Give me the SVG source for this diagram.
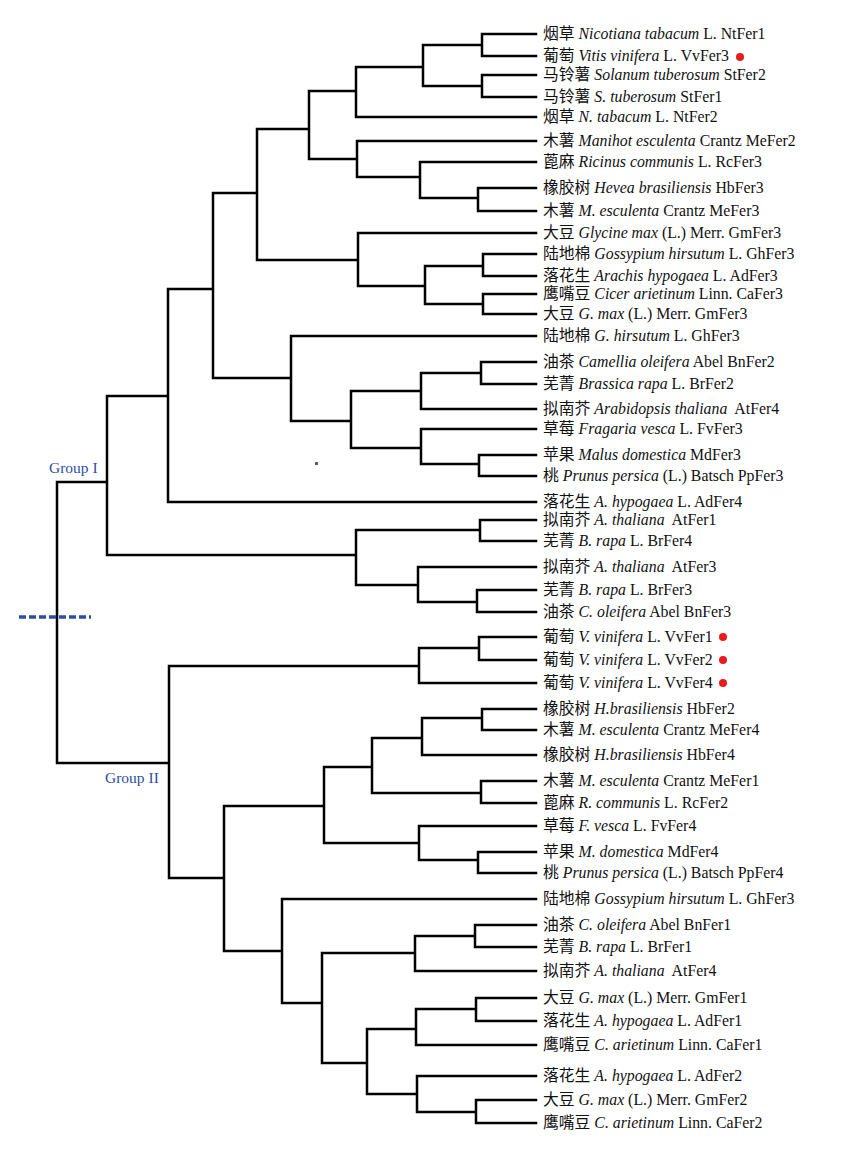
<svg xmlns="http://www.w3.org/2000/svg" width="854" height="1159" viewBox="0 0 854 1159">
<style>
.tree{fill:none;stroke:#000;stroke-width:2.5;stroke-linecap:square}
.lb{font-family:"Liberation Serif","Noto Sans CJK SC",serif;font-size:15.8px;fill:#111;white-space:pre}
.it{font-style:italic}
.grp{font-family:"Liberation Serif",serif;font-size:15.5px;fill:#2f4ea3}
.dot{fill:#e81c1c}
</style>
<rect width="854" height="1159" fill="#fff"/>
<g id="connectors">
<path class="tree" d="M482,34V56M482,34H536M482,56H536
M482,75V97M482,75H536M482,97H536
M423,45V86M423,45H482M423,86H482
M356,67V117M356,67H423M356,117H536
M478,188V211M478,188H536M478,211H536
M420,162V198M420,162H536M420,198H478
M357,141V177M357,141H536M357,177H420
M309,91V159M309,91H356M309,159H357
M483,254V276M483,254H536M483,276H536
M483,294V314M483,294H536M483,314H536
M425,266V304M425,266H483M425,304H483
M358,233V286M358,233H536M358,286H425
M257,129V260M257,129H309M257,260H358
M481,362V384M481,362H536M481,384H536
M421,373V409M421,373H481M421,409H536
M479,455V476M479,455H536M479,476H536
M421,429V464M421,429H536M421,464H479
M351,391V448M351,391H421M351,448H421
M291,336V421M291,336H536M291,421H351
M213,193V378M213,193H257M213,378H291
M168,289V502M168,289H213M168,502H536
M480,520V541M480,520H536M480,541H536
M477,590V612M477,590H536M477,612H536
M418,567V602M418,567H536M418,602H477
M356,530V585M356,530H480M356,585H418
M107,396V555M107,396H168M107,555H356
M57,482V763M57,482H107M57,763H169
M479,637V660M479,637H536M479,660H536
M419,648V683M419,648H479M419,683H536
M482,709V730M482,709H536M482,730H536
M422,718V755M422,718H482M422,755H536
M481,781V803M481,781H536M481,803H536
M372,738V793M372,738H422M372,793H481
M478,852V873M478,852H536M478,873H536
M419,826V860M419,826H536M419,860H478
M324,767V843M324,767H372M324,843H419
M475,925V947M475,925H536M475,947H536
M415,936V971M415,936H475M415,971H536
M476,998V1021M476,998H536M476,1021H536
M416,1009V1045M416,1009H476M416,1045H536
M476,1100V1123M476,1100H536M476,1123H536
M417,1076V1112M417,1076H536M417,1112H476
M367,1029V1094M367,1029H416M367,1094H417
M322,953V1063M322,953H415M322,1063H367
M282,899V1003M282,899H536M282,1003H322
M224,806V951M224,806H324M224,951H282
M169,666V878M169,666H419M169,878H224"/>
<path d="M19,617H91" fill="none" stroke="#2f4ea3" stroke-width="3.5" stroke-dasharray="7,3"/>
<rect x="315" y="462" width="3" height="3" fill="#556070"/>
</g>
<g id="group-I"><text class="grp" x="49" y="473">Group I</text></g>
<g id="group-II"><text class="grp" x="105" y="783">Group II</text></g>
<g id="leaf-01"><text class="lb" x="543" y="39">烟草 <tspan class="it">Nicotiana tabacum</tspan> L. NtFer1</text></g>
<g id="leaf-02"><text class="lb" x="543" y="61">葡萄 <tspan class="it">Vitis vinifera</tspan> L. VvFer3</text><circle class="dot" cx="740" cy="57" r="4"/></g>
<g id="leaf-03"><text class="lb" x="543" y="80">马铃薯 <tspan class="it">Solanum tuberosum</tspan> StFer2</text></g>
<g id="leaf-04"><text class="lb" x="543" y="102">马铃薯 <tspan class="it">S. tuberosum</tspan> StFer1</text></g>
<g id="leaf-05"><text class="lb" x="543" y="122">烟草 <tspan class="it">N. tabacum</tspan> L. NtFer2</text></g>
<g id="leaf-06"><text class="lb" x="543" y="146">木薯 <tspan class="it">Manihot esculenta</tspan> Crantz MeFer2</text></g>
<g id="leaf-07"><text class="lb" x="543" y="167">蓖麻 <tspan class="it">Ricinus communis</tspan> L. RcFer3</text></g>
<g id="leaf-08"><text class="lb" x="543" y="193">橡胶树 <tspan class="it">Hevea brasiliensis</tspan> HbFer3</text></g>
<g id="leaf-09"><text class="lb" x="543" y="216">木薯 <tspan class="it">M. esculenta</tspan> Crantz MeFer3</text></g>
<g id="leaf-10"><text class="lb" x="543" y="238">大豆 <tspan class="it">Glycine max</tspan> (L.) Merr. GmFer3</text></g>
<g id="leaf-11"><text class="lb" x="543" y="259">陆地棉 <tspan class="it">Gossypium hirsutum</tspan> L. GhFer3</text></g>
<g id="leaf-12"><text class="lb" x="543" y="281">落花生 <tspan class="it">Arachis hypogaea</tspan> L. AdFer3</text></g>
<g id="leaf-13"><text class="lb" x="543" y="299">鹰嘴豆 <tspan class="it">Cicer arietinum</tspan> Linn. CaFer3</text></g>
<g id="leaf-14"><text class="lb" x="543" y="319">大豆 <tspan class="it">G. max</tspan> (L.) Merr. GmFer3</text></g>
<g id="leaf-15"><text class="lb" x="543" y="341">陆地棉 <tspan class="it">G. hirsutum</tspan> L. GhFer3</text></g>
<g id="leaf-16"><text class="lb" x="543" y="367">油茶 <tspan class="it">Camellia oleifera</tspan> Abel BnFer2</text></g>
<g id="leaf-17"><text class="lb" x="543" y="389">芜菁 <tspan class="it">Brassica rapa</tspan> L. BrFer2</text></g>
<g id="leaf-18"><text class="lb" x="543" y="414">拟南芥 <tspan class="it">Arabidopsis thaliana</tspan>  AtFer4</text></g>
<g id="leaf-19"><text class="lb" x="543" y="434">草莓 <tspan class="it">Fragaria vesca</tspan> L. FvFer3</text></g>
<g id="leaf-20"><text class="lb" x="543" y="460">苹果 <tspan class="it">Malus domestica</tspan> MdFer3</text></g>
<g id="leaf-21"><text class="lb" x="543" y="481">桃 <tspan class="it">Prunus persica</tspan> (L.) Batsch PpFer3</text></g>
<g id="leaf-22"><text class="lb" x="543" y="507">落花生 <tspan class="it">A. hypogaea</tspan> L. AdFer4</text></g>
<g id="leaf-23"><text class="lb" x="543" y="525">拟南芥 <tspan class="it">A. thaliana</tspan>  AtFer1</text></g>
<g id="leaf-24"><text class="lb" x="543" y="546">芜菁 <tspan class="it">B. rapa</tspan> L. BrFer4</text></g>
<g id="leaf-25"><text class="lb" x="543" y="572">拟南芥 <tspan class="it">A. thaliana</tspan>  AtFer3</text></g>
<g id="leaf-26"><text class="lb" x="543" y="595">芜菁 <tspan class="it">B. rapa</tspan> L. BrFer3</text></g>
<g id="leaf-27"><text class="lb" x="543" y="617">油茶 <tspan class="it">C. oleifera</tspan> Abel BnFer3</text></g>
<g id="leaf-28"><text class="lb" x="543" y="642">葡萄 <tspan class="it">V. vinifera</tspan> L. VvFer1</text><circle class="dot" cx="723" cy="637" r="4"/></g>
<g id="leaf-29"><text class="lb" x="543" y="665">葡萄 <tspan class="it">V. vinifera</tspan> L. VvFer2</text><circle class="dot" cx="723" cy="660" r="4"/></g>
<g id="leaf-30"><text class="lb" x="543" y="688">葡萄 <tspan class="it">V. vinifera</tspan> L. VvFer4</text><circle class="dot" cx="723" cy="683" r="4"/></g>
<g id="leaf-31"><text class="lb" x="543" y="714">橡胶树 <tspan class="it">H.brasiliensis</tspan> HbFer2</text></g>
<g id="leaf-32"><text class="lb" x="543" y="735">木薯 <tspan class="it">M. esculenta</tspan> Crantz MeFer4</text></g>
<g id="leaf-33"><text class="lb" x="543" y="760">橡胶树 <tspan class="it">H.brasiliensis</tspan> HbFer4</text></g>
<g id="leaf-34"><text class="lb" x="543" y="786">木薯 <tspan class="it">M. esculenta</tspan> Crantz MeFer1</text></g>
<g id="leaf-35"><text class="lb" x="543" y="808">蓖麻 <tspan class="it">R. communis</tspan> L. RcFer2</text></g>
<g id="leaf-36"><text class="lb" x="543" y="831">草莓 <tspan class="it">F. vesca</tspan> L. FvFer4</text></g>
<g id="leaf-37"><text class="lb" x="543" y="857">苹果 <tspan class="it">M. domestica</tspan> MdFer4</text></g>
<g id="leaf-38"><text class="lb" x="543" y="878">桃 <tspan class="it">Prunus persica</tspan> (L.) Batsch PpFer4</text></g>
<g id="leaf-39"><text class="lb" x="543" y="904">陆地棉 <tspan class="it">Gossypium hirsutum</tspan> L. GhFer3</text></g>
<g id="leaf-40"><text class="lb" x="543" y="930">油茶 <tspan class="it">C. oleifera</tspan> Abel BnFer1</text></g>
<g id="leaf-41"><text class="lb" x="543" y="952">芜菁 <tspan class="it">B. rapa</tspan> L. BrFer1</text></g>
<g id="leaf-42"><text class="lb" x="543" y="976">拟南芥 <tspan class="it">A. thaliana</tspan>  AtFer4</text></g>
<g id="leaf-43"><text class="lb" x="543" y="1003">大豆 <tspan class="it">G. max</tspan> (L.) Merr. GmFer1</text></g>
<g id="leaf-44"><text class="lb" x="543" y="1026">落花生 <tspan class="it">A. hypogaea</tspan> L. AdFer1</text></g>
<g id="leaf-45"><text class="lb" x="543" y="1050">鹰嘴豆 <tspan class="it">C. arietinum</tspan> Linn. CaFer1</text></g>
<g id="leaf-46"><text class="lb" x="543" y="1081">落花生 <tspan class="it">A. hypogaea</tspan> L. AdFer2</text></g>
<g id="leaf-47"><text class="lb" x="543" y="1105">大豆 <tspan class="it">G. max</tspan> (L.) Merr. GmFer2</text></g>
<g id="leaf-48"><text class="lb" x="543" y="1128">鹰嘴豆 <tspan class="it">C. arietinum</tspan> Linn. CaFer2</text></g>
</svg>
